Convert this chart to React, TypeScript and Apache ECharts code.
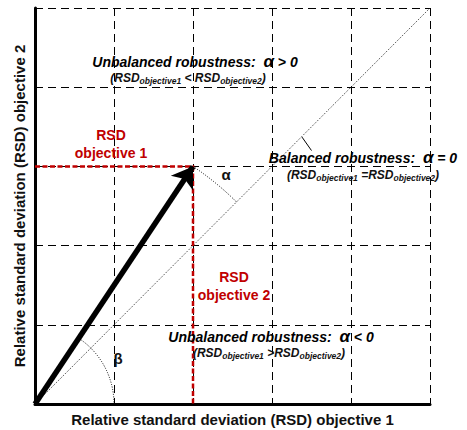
import React, { useEffect, useRef } from "react";
import * as echarts from "echarts";

// axis range (both axes share the same unit grid)
const axisMin = 0;
const axisMax = 5;
const axisStep = 1;

// vector and reference lines (data units)
const origin: [number, number] = [0, 0];
const vectorTip: [number, number] = [2, 3];
const diagonalEnd: [number, number] = [5, 5];
const rsdGuide: [number, number][] = [[0, 3], [2, 3], [2, 0]];
const leaderLine: [number, number][] = [[3.38, 3.37], [3.5, 3.2]];
// arcs: [center, point giving radius, direction from, direction to]
const betaArc: [number, number][] = [[0, 0], [1, 0], [1, 0], [2, 3]];
const alphaArc: [number, number][] = [[0, 0], [2, 3], [5, 5], [2, 3]];

const xAxisTitle = "Relative standard deviation (RSD) objective 1";
const yAxisTitle = "Relative standard deviation (RSD) objective 2";

const FONT = "'Liberation Sans', Arial, sans-serif";
const RED = "#c00000";

const mainRich = {
  m: { fontSize: 14, fontWeight: "bold", fontStyle: "italic", fontFamily: FONT, fill: "#000", lineHeight: 15 },
  a: { fontSize: 17, fontWeight: "bold", fontStyle: "italic", fontFamily: FONT, fill: "#000", lineHeight: 14, verticalAlign: "bottom" },
};
const subRich = {
  p: { fontSize: 12, fontWeight: "bold", fontStyle: "italic", fontFamily: FONT, fill: "#111", lineHeight: 14 },
  s: { fontSize: 8.5, fontWeight: "bold", fontStyle: "italic", fontFamily: FONT, fill: "#111", lineHeight: 8, verticalAlign: "bottom" },
};

export default function App() {
  const ref = useRef<HTMLDivElement>(null);
  useEffect(() => {
    if (!ref.current) return;
    const chart = echarts.init(ref.current, undefined, { renderer: "svg" });

    const arcRender = (params: any, api: any) => {
      const arc = params.dataIndex === 0 ? betaArc : alphaArc;
      const c = api.coord(arc[0]);
      const rp = api.coord(arc[1]);
      const r = Math.hypot(rp[0] - c[0], rp[1] - c[1]);
      const p1 = api.coord(arc[2]);
      const p2 = api.coord(arc[3]);
      const a1 = Math.atan2(p1[1] - c[1], p1[0] - c[0]);
      const a2 = Math.atan2(p2[1] - c[1], p2[0] - c[0]);
      return {
        type: "arc",
        shape: { cx: c[0], cy: c[1], r, startAngle: Math.min(a1, a2), endAngle: Math.max(a1, a2), clockwise: true },
        style: { stroke: "#000", lineWidth: 1, lineDash: [1, 1.5], fill: null },
      };
    };

    const dash = { type: [8, 5] as any, color: "#000", width: 1 };

    chart.setOption({
      animation: false,
      grid: { left: 35, top: 8, right: 37, bottom: 26, containLabel: false, outerBoundsMode: "none" },
      xAxis: {
        type: "value", min: axisMin, max: axisMax, interval: axisStep,
        axisLine: { show: true, lineStyle: { color: "#000", width: 3 } },
        axisTick: { show: false }, axisLabel: { show: false },
        splitLine: { show: true, lineStyle: dash },
        name: xAxisTitle, nameLocation: "middle", nameGap: 8,
        nameTextStyle: { fontFamily: FONT, fontWeight: "bold", fontSize: 15, color: "#111", verticalAlign: "top" },
      },
      yAxis: {
        type: "value", min: axisMin, max: axisMax, interval: axisStep,
        axisLine: { show: true, lineStyle: { color: "#000", width: 3 } },
        axisTick: { show: false }, axisLabel: { show: false },
        splitLine: { show: true, lineStyle: dash },
        name: yAxisTitle, nameLocation: "middle", nameGap: 8,
        nameTextStyle: { fontFamily: FONT, fontWeight: "bold", fontSize: 15, color: "#111" },
      },
      series: [
        {
          type: "lines", coordinateSystem: "cartesian2d", silent: true, z: 2,
          data: [{ coords: [origin, diagonalEnd] }],
          lineStyle: { color: "#222", width: 1, type: [1, 1.5] as any, opacity: 1 },
        },
        {
          type: "lines", coordinateSystem: "cartesian2d", silent: true, z: 3,
          data: [{ coords: leaderLine }],
          lineStyle: { color: "#000", width: 1, opacity: 1 },
        },
        {
          type: "lines", coordinateSystem: "cartesian2d", polyline: true, silent: true, z: 4,
          data: [{ coords: rsdGuide }],
          lineStyle: { color: RED, width: 2.5, type: [5, 2.5] as any, opacity: 1 },
        },
        {
          type: "custom", coordinateSystem: "cartesian2d", silent: true, z: 3,
          renderItem: arcRender,
          data: [[0, 0], [0, 0]],
        },
        {
          type: "lines", coordinateSystem: "cartesian2d", silent: true, z: 5,
          data: [{ coords: [origin, vectorTip] }],
          symbol: ["none", "arrow"], symbolSize: [16, 20],
          lineStyle: { color: "#000", width: 5.5, opacity: 1 },
        },
      ],
      graphic: [
        {
          type: "text", x: 195, y: 62, z: 10,
          style: { text: "{m|Unbalanced robustness:  }{a|α}{m| > 0}", rich: mainRich, textAlign: "center", textVerticalAlign: "middle" },
        },
        {
          type: "text", x: 188, y: 78, z: 10,
          style: { text: "{p|(RSD}{s|objective1}{p| < RSD}{s|objective2}{p|)}", rich: subRich, textAlign: "center", textVerticalAlign: "middle" },
        },
        {
          type: "text", x: 363, y: 158, z: 10,
          style: { text: "{m|Balanced robustness:  }{a|α}{m| = 0}", rich: mainRich, textAlign: "center", textVerticalAlign: "middle" },
        },
        {
          type: "text", x: 363, y: 175, z: 10,
          style: { text: "{p|(RSD}{s|objective1}{p| =RSD}{s|objective2}{p|)}", rich: subRich, textAlign: "center", textVerticalAlign: "middle" },
        },
        {
          type: "text", x: 271, y: 337, z: 10,
          style: { text: "{m|Unbalanced robustness:  }{a|α}{m| < 0}", rich: mainRich, textAlign: "center", textVerticalAlign: "middle" },
        },
        {
          type: "text", x: 269, y: 353, z: 10,
          style: { text: "{p|(RSD}{s|objective1}{p| >RSD}{s|objective2}{p|)}", rich: subRich, textAlign: "center", textVerticalAlign: "middle" },
        },
        {
          type: "text", x: 111, y: 144, z: 10,
          style: { text: "RSD\nobjective 1", fill: RED, font: `bold 14px ${FONT}`, lineHeight: 18, textAlign: "center", textVerticalAlign: "middle" },
        },
        {
          type: "text", x: 234, y: 286, z: 10,
          style: { text: "RSD\nobjective 2", fill: RED, font: `bold 14px ${FONT}`, lineHeight: 18, textAlign: "center", textVerticalAlign: "middle" },
        },
        {
          type: "text", x: 226, y: 174, z: 10,
          style: { text: "α", fill: "#111", font: `bold 15px ${FONT}`, textAlign: "center", textVerticalAlign: "middle" },
        },
        {
          type: "text", x: 118, y: 358, z: 10,
          style: { text: "β", fill: "#111", font: `bold 15px ${FONT}`, textAlign: "center", textVerticalAlign: "middle" },
        },
      ],
    });
    return () => chart.dispose();
  }, []);
  return <div ref={ref} style={{ width: 467, height: 430, position: "absolute", left: 0, top: 0 }} />;
}
